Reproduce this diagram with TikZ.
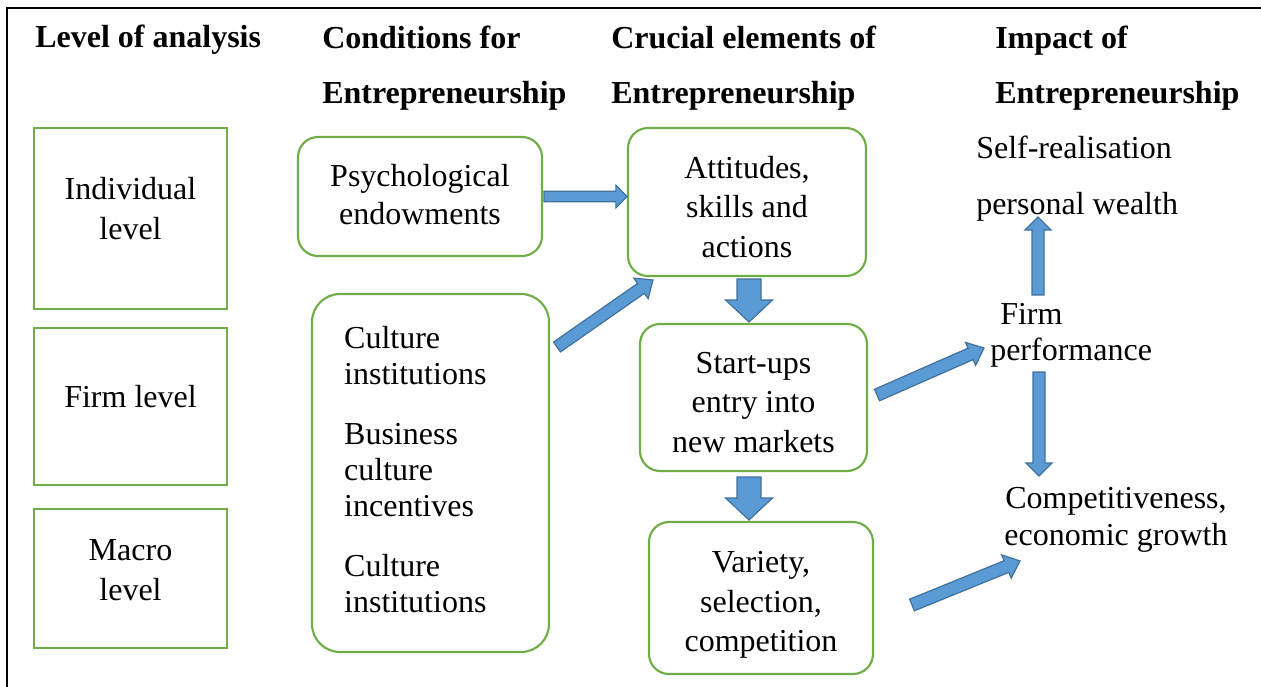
\documentclass[tikz,border=0pt]{standalone}
\usepackage{fontspec}
\setmainfont{Liberation Serif}
\usetikzlibrary{calc,positioning}
\definecolor{boxgreen}{RGB}{112,173,71}
\definecolor{arrowfill}{RGB}{91,155,213}
\definecolor{arrowline}{RGB}{65,113,156}
\tikzset{
lvlbox/.style={draw=boxgreen, line width=1.6pt, minimum width=144.75pt, inner sep=0pt}, % square level boxes
rbox/.style={draw=boxgreen, line width=1.6pt, rounded corners=15pt, inner sep=0pt},
txt/.style={inner sep=0pt, align=center, font=\fontsize{24}{30}\selectfont},
head/.style={inner sep=0pt, anchor=west, align=left, font=\fontsize{24}{41.5}\selectfont\bfseries},
blockarr/.style={fill=arrowfill, draw=arrowline, line width=0.9pt, line join=miter},
}
% block arrow: tail, tip, half shaft, half head, head length
\newcommand{\blockarrow}[5]{%
\coordinate (bh) at ($(#2)!#5!(#1)$);
\filldraw[blockarr] ($(#1)!#3!90:(#2)$) -- ($(bh)!#3!90:(#2)$) -- ($(bh)!#4!90:(#2)$) -- (#2) -- ($(bh)!#4!-90:(#2)$) -- ($(bh)!#3!-90:(#2)$) -- ($(#1)!#3!-90:(#2)$) -- cycle;
}

\begin{document}
\begin{tikzpicture}[x=0.75pt,y=0.75pt,yscale=-1,xscale=1]
\clip (0,0) rectangle (1261,686);
%frame
\draw[line width=2.2pt] (7,720) -- (7,8) -- (1290,8);
%headings
\node[head] (hlevel) at (35,40) {Level of analysis};
\node[head] (hcond) at (322,68) {Conditions for\\Entrepreneurship};
\node[head] (hcruc) at (611,68) {Crucial elements of\\Entrepreneurship};
\node[head] (himp) at (995,68) {Impact of\\Entrepreneurship};
%level boxes
\node[lvlbox, minimum height=135.75pt] (indiv) at (130.5,218.5) {};
\node[lvlbox, minimum height=117.75pt] (firm) at (130.5,406.5) {};
\node[lvlbox, minimum height=104.25pt] (macro) at (130.5,578.5) {};
\node[txt] (indivtxt) at ($(indiv)+(0,-10)$) {Individual\\level};
\node[txt] (firmtxt) at ($(firm)+(0,-10)$) {Firm level};
\node[txt] (macrotxt) at ($(macro)+(0,-8)$) {Macro\\level};
%conditions
\node[rbox, minimum width=183pt, minimum height=89.25pt] (psych) at (420,196.5) {};
\node[rbox, rounded corners=21pt, minimum width=177.75pt, minimum height=268.5pt] (culture) at (430.5,473) {};
\node[txt, font=\fontsize{24}{29}\selectfont] (psychtxt) at ($(psych)+(0,-2)$) {Psychological\\endowments};
\node[txt, anchor=west, align=left, font=\fontsize{24}{27}\selectfont] (culturetxt) at ($(culture.west)+(33,-3.5)$)
  {Culture\\institutions\\[18pt]Business\\culture\\incentives\\[18pt]Culture\\institutions};
%crucial elements
\node[rbox, minimum width=178.5pt, minimum height=111pt] (attit) at (747,202) {};
\node[rbox, minimum width=170.25pt, minimum height=110.25pt] (startup) at (753.5,397.5) {};
\node[rbox, minimum width=168pt, minimum height=114pt] (variety) at (761,598) {};
\node[txt, font=\fontsize{24}{29.5}\selectfont] (attittxt) at ($(attit)+(0,5)$) {Attitudes,\\skills and\\actions};
\node[txt, font=\fontsize{24}{29.5}\selectfont] (startuptxt) at ($(startup)+(0,5)$) {Start-ups\\entry into\\new markets};
\node[txt, font=\fontsize{24}{29.5}\selectfont] (varietytxt) at ($(variety)+(0,7)$) {Variety,\\selection,\\competition};
%impact
\node[txt, anchor=west, align=left, font=\fontsize{24}{42}\selectfont] (selfreal) at (976,179) {Self-realisation\\personal wealth};
\node[txt, anchor=west, align=left, font=\fontsize{24}{27}\selectfont] (firmperf) at (990,335) {\hspace{7.5pt}Firm\\performance};
\node[txt, font=\fontsize{24}{28}\selectfont] (compet) at (1116,520) {Competitiveness,\\economic growth};
%arrows
\coordinate (a1s) at ($(psych.east)+(1,0)$);
\coordinate (a1e) at (psych.east -| attit.west);
\coordinate (a2s) at (557,347);
\coordinate (a2e) at (653,280);
\coordinate (a3s) at (749,279);
\coordinate (a3e) at (749,322);
\coordinate (a4s) at (749,477);
\coordinate (a4e) at (749,520);
\coordinate (a5s) at (877,395);
\coordinate (a5e) at (984,348);
\coordinate (a6s) at (1038,295);
\coordinate (a6e) at (1038,217);
\coordinate (a7s) at (1039,372);
\coordinate (a7e) at (1039,476);
\coordinate (a8s) at (912,605);
\coordinate (a8e) at (1020,561);
\blockarrow{a1s}{a1e}{4pt}{8.6pt}{8.3pt}
\blockarrow{a2s}{a2e}{4.5pt}{9.4pt}{11pt}
\blockarrow{a3s}{a3e}{9pt}{17.6pt}{16.5pt}
\blockarrow{a4s}{a4e}{9pt}{17.6pt}{16.5pt}
\blockarrow{a5s}{a5e}{4.7pt}{9.4pt}{11pt}
\blockarrow{a6s}{a6e}{4.5pt}{9.75pt}{9.75pt}
\blockarrow{a7s}{a7e}{4.5pt}{9.75pt}{9.75pt}
\blockarrow{a8s}{a8e}{4.7pt}{9.4pt}{11pt}
\end{tikzpicture}
\end{document}
